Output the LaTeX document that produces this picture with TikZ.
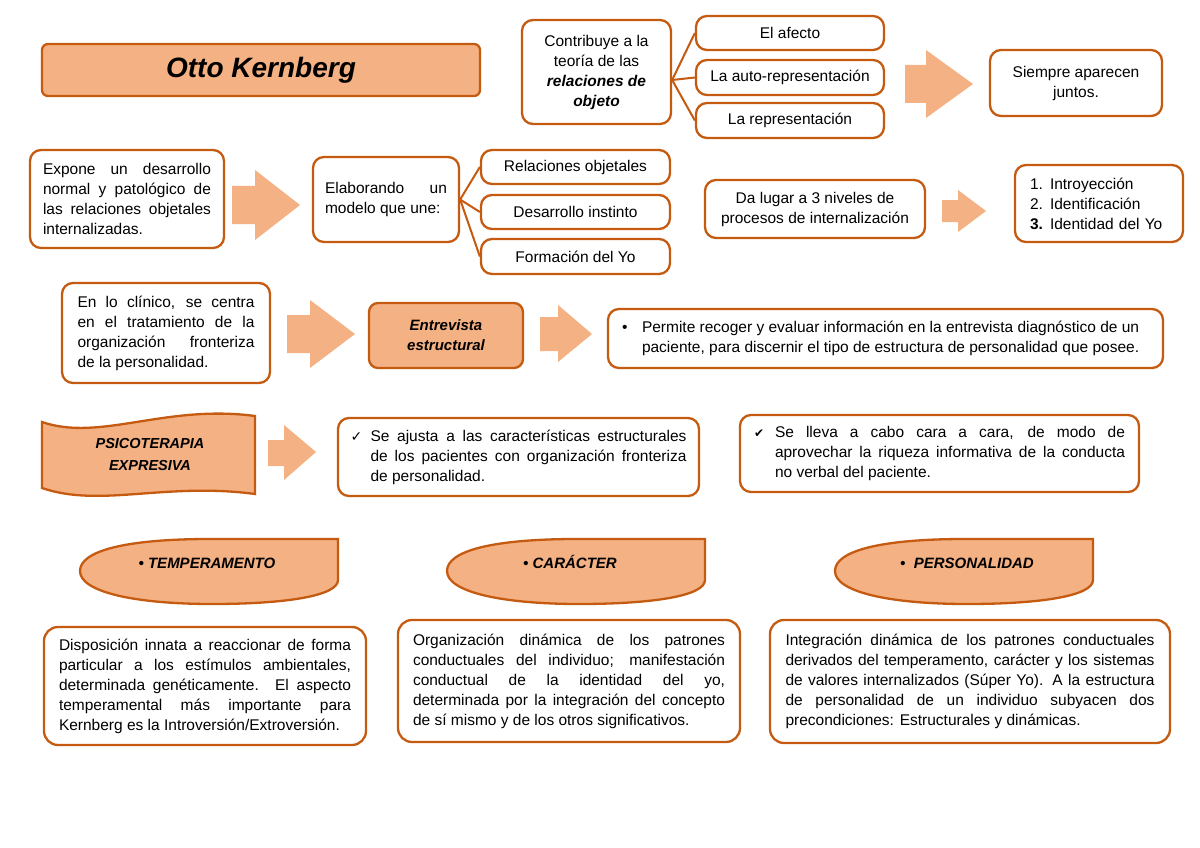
\documentclass[tikz,border=0pt]{standalone}
\usepackage{fontspec}
\setmainfont{Liberation Sans}
\newfontfamily\chkfont{DejaVu Sans}
\usetikzlibrary{positioning}
\definecolor{borde}{HTML}{C55A11}
\definecolor{durazno}{HTML}{F4B183}
\newcommand{\chk}{{\chkfont\fontsize{14}{14}\selectfont ✓}}
\newcommand{\chkb}{{\chkfont\fontsize{12}{14}\selectfont ✔}}

\begin{document}
\begin{tikzpicture}[x=1pt, y=-1pt,
    caja/.style={draw=borde, line width=2.3pt, rounded corners=11pt, fill=white, align=center, inner sep=0pt, font=\fontsize{15.5}{20}\selectfont},
    cajaf/.style={caja, fill=durazno, font=\fontsize{15}{20}\selectfont\bfseries\itshape},
    linea/.style={draw=borde, line width=2pt},
    flecha/.style={fill=durazno},
    forma/.style={draw=borde, line width=2.3pt, fill=durazno},
    rotulo/.style={font=\fontsize{15}{20}\selectfont\bfseries\itshape, align=center}
]
\fill[white] (0,0) rectangle (1200,848);
\useasboundingbox (0,0) rectangle (1200,848);

% fila 1
\node[cajaf, rounded corners=6pt, minimum width=438pt, minimum height=52pt, font=\fontsize{28}{32}\selectfont\bfseries\itshape] (titulo) at (261,70) {Otto Kernberg};
\node[caja, minimum width=149pt, minimum height=104pt] (contrib) at (596.5,72) {Contribuye a la\\teoría de las\\\textbf{\textit{relaciones de}}\\\textbf{\textit{objeto}}};
\node[caja, minimum width=188pt, minimum height=34pt] (afecto) at (790,33) {El afecto};
\node[caja, minimum width=188pt, minimum height=35pt] (autorep) at (790,77.5) {La auto-representación};
\node[caja, minimum width=188pt, minimum height=35pt] (repres) at (790,120.5) {La representación};
\node[caja, minimum width=172pt, minimum height=66pt] (siempre) at (1076,83) {Siempre aparecen\\juntos.};

\draw[linea] ([yshift=-8pt]contrib.east) -- (afecto.west);
\draw[linea] ([yshift=-8pt]contrib.east) -- (autorep.west);
\draw[linea] ([yshift=-8pt]contrib.east) -- (repres.west);
\fill[flecha] (905,65) -- (926,65) -- (926,50) -- (973,84) -- (926,118) -- (926,103) -- (905,103) -- cycle;

% fila 2
\node[caja, minimum width=194pt, minimum height=98pt] (expone) at (127,199) {\parbox{168pt}{Expone un desarrollo\linebreak normal y patológico de\linebreak las relaciones objetales\linebreak internalizadas.}};
\fill[flecha] (232,186) -- (255,186) -- (255,170) -- (300,205) -- (255,240) -- (255,224) -- (232,224) -- cycle;
\node[caja, minimum width=146pt, minimum height=85pt] (elab) at (386,199.5) {\parbox{122pt}{Elaborando un\linebreak modelo que une:}};
\node[caja, minimum width=189pt, minimum height=34pt] (relob) at (575.5,167) {Relaciones objetales};
\node[caja, minimum width=189pt, minimum height=34pt] (desins) at (575.5,212) {Desarrollo instinto};
\node[caja, minimum width=189pt, minimum height=35pt] (formyo) at (575.5,256.5) {Formación del Yo};
\draw[linea] (elab.east) -- (relob.west);
\draw[linea] (elab.east) -- (desins.west);
\draw[linea] (elab.east) -- (formyo.west);

\node[caja, minimum width=220pt, minimum height=58pt] (dalugar) at (815,209) {Da lugar a 3 niveles de\\procesos de internalización};
\fill[flecha] (942,200) -- (958,200) -- (958,190) -- (986,211) -- (958,232) -- (958,222) -- (942,222) -- cycle;
\node[caja, align=left, text width=138pt, inner xsep=15pt, minimum height=77pt] (niveles) at (1099,203.5) {\makebox[20pt][l]{1.}Introyección\\\makebox[20pt][l]{2.}Identificación\\\makebox[20pt][l]{\textbf{3.}}Identidad del Yo};

% fila 3
\node[caja, minimum width=208pt, minimum height=100pt] (clinico) at (166,333) {\parbox{177pt}{En lo clínico, se centra\linebreak en el tratamiento de la\linebreak organización fronteriza\linebreak de la personalidad.}};
\fill[flecha] (287,315) -- (310,315) -- (310,300) -- (355,334) -- (310,368) -- (310,353) -- (287,353) -- cycle;
\node[cajaf, rounded corners=9pt, minimum width=154pt, minimum height=65pt] (entrev) at (446,335.5) {Entrevista\\estructural};
\fill[flecha] (540,317) -- (558,317) -- (558,305) -- (592,334) -- (558,362) -- (558,351) -- (540,351) -- cycle;
\node[caja, minimum width=555pt, minimum height=59pt] (permite) at (885.5,338.5) {\makebox[20pt][l]{•}\parbox[t]{507pt}{\raggedright Permite recoger y evaluar información en la entrevista diagnóstico de un\\paciente, para discernir el tipo de estructura de personalidad que posee.}};

% fila 4
\draw[forma] (42,422) .. controls (100,442) and (165,404) .. (255,416) -- (255,494) .. controls (165,482) and (100,508) .. (42,488) -- cycle;
\node[rotulo, font=\fontsize{14.5}{22}\selectfont\bfseries\itshape] (psico) at (150,455) {PSICOTERAPIA\\EXPRESIVA};
\fill[flecha] (268,440) -- (284,440) -- (284,425) -- (316,452) -- (284,480) -- (284,466) -- (268,466) -- cycle;
\node[caja, minimum width=361pt, minimum height=78pt] (ajusta) at (518.5,457) {\makebox[20pt][l]{\chk}\parbox[t]{316pt}{Se ajusta a las características estructurales\linebreak de los pacientes con organización fronteriza\linebreak de personalidad.}};
\node[caja, minimum width=399pt, minimum height=77pt] (lleva) at (939.5,453.5) {\makebox[21pt][l]{\chkb}\parbox[t]{350pt}{Se lleva a cabo cara a cara, de modo de\linebreak aprovechar la riqueza informativa de la conducta\linebreak no verbal del paciente.}};

% fila 5
\foreach \x in {80,447,835}
  \draw[forma, xshift=\x] (258,539) -- (130,539) .. controls (45,539) and (0,551) .. (0,571) .. controls (0,592) and (55,604) .. (132,604) .. controls (205,604) and (258,596) .. (258,580) -- cycle;
\node[rotulo] (temp) at (207,563) {• TEMPERAMENTO};
\node[rotulo] (carac) at (570,562) {• CARÁCTER};
\node[rotulo] (perso) at (967,563) {•\ \ PERSONALIDAD};

% fila 6
\node[caja, rounded corners=14pt, minimum width=322pt, minimum height=118pt] (dispo) at (205,686) {\parbox{292pt}{Disposición innata a reaccionar de forma\linebreak particular a los estímulos ambientales,\linebreak determinada genéticamente. El aspecto\linebreak temperamental más importante para\linebreak Kernberg es la Introversión/Extroversión.}};
\node[caja, rounded corners=14pt, minimum width=342pt, minimum height=122pt] (organ) at (569,681) {\parbox{312pt}{Organización dinámica de los patrones\linebreak conductuales del individuo; manifestación\linebreak conductual de la identidad del yo,\linebreak determinada por la integración del concepto\linebreak de sí mismo y de los otros significativos.}};
\node[caja, rounded corners=14pt, minimum width=400pt, minimum height=123pt] (integ) at (970,681.5) {\parbox{369pt}{Integración dinámica de los patrones conductuales\linebreak derivados del temperamento, carácter y los sistemas\linebreak de valores internalizados (Súper Yo). A la estructura\linebreak de personalidad de un individuo subyacen dos\linebreak precondiciones: Estructurales y dinámicas.}};
\end{tikzpicture}
\end{document}
